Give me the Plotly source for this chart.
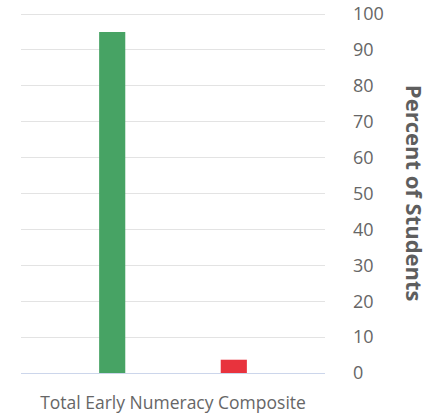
import plotly.graph_objects as go

# Share of students in each risk band for the composite score
categories = ["Total Early Numeracy Composite"]
series_names = ["Low Risk", "Some Risk", "High Risk"]
series_values = [[95], [0], [3.7]]
series_colors = ["#47a364", "#f2c230", "#e8333d"]
y_ticks = list(range(0, 101, 10))

bar_width = 0.086
slot = 0.2

fig = go.Figure()
for i, (name, vals, col) in enumerate(zip(series_names, series_values, series_colors)):
    fig.add_trace(go.Bar(
        x=categories, y=vals, name=name,
        marker=dict(color=col, line=dict(width=0)),
        width=bar_width,
        offset=(i - 1) * slot - bar_width / 2,
        showlegend=False,
        hoverinfo="skip",
    ))

fig.update_layout(
    width=438, height=414,
    margin=dict(l=21, r=113, t=13, b=41),
    paper_bgcolor="white", plot_bgcolor="white",
    barmode="overlay",
    font=dict(family="Open Sans", color="#666666"),
    xaxis=dict(
        range=[-0.5, 0.5], automargin=False,
        showline=True, linecolor="#ccd6eb", linewidth=1,
        showgrid=False, zeroline=False,
        ticks="", tickfont=dict(size=17.5, color="#666666"),
        ticklabelstandoff=14,
    ),
    yaxis=dict(
        side="right", range=[0, 100.3], automargin=False,
        tickvals=y_ticks,
        showgrid=True, gridcolor="#e3e3e3", gridwidth=1,
        zeroline=False, showline=False, ticks="",
        tickfont=dict(size=18, color="#666666"),
        ticklabelstandoff=27,
    ),
    annotations=[dict(
        text="<b>Percent of Students</b>",
        xref="paper", yref="paper", x=1.2965, y=0.5,
        xanchor="center", yanchor="middle",
        textangle=90, showarrow=False,
        font=dict(size=22, color="#5e5e5e", family="Open Sans"),
    )],
)

fig.write_html("out.html")
